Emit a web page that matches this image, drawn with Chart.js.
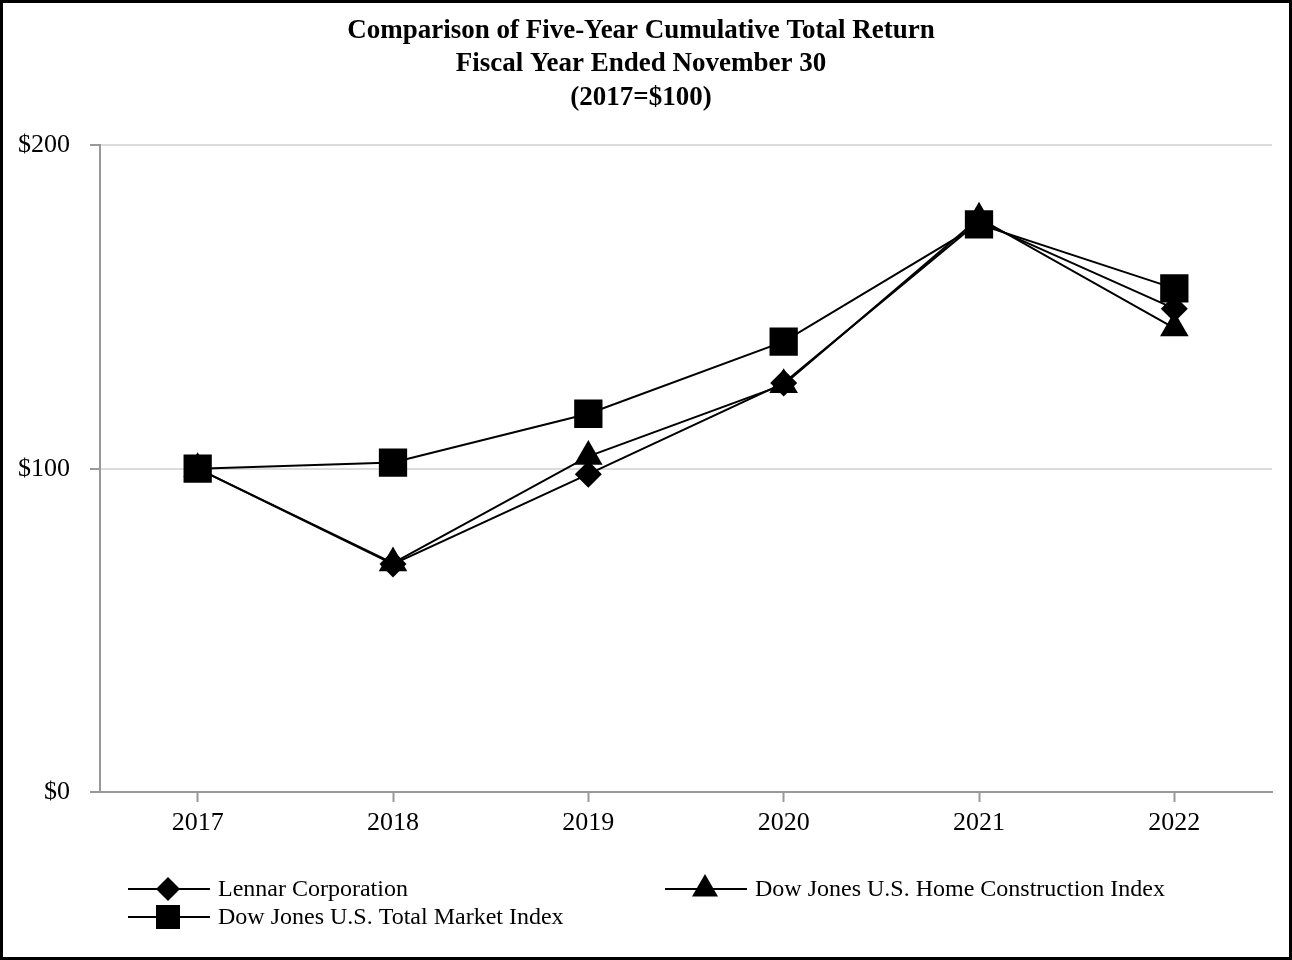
<!DOCTYPE html>
<html>
<head>
<meta charset="utf-8">
<script src="https://cdn.jsdelivr.net/npm/chart.js@4/dist/chart.umd.min.js"></script>
<style>
html,body{margin:0;padding:0;background:#fff;}
#wrap{width:1292px;height:960px;position:relative;}
</style>
</head>
<body>
<div id="wrap"><canvas id="c" width="1292" height="960"></canvas></div>
<script>
const years = ['2017', '2018', '2019', '2020', '2021', '2022'];
const lennar = [100, 70.5, 98.3, 126.5, 176.5, 149.5];
const homeConstruction = [100, 70.8, 103.8, 126.0, 177.5, 143.5];
const totalMarket = [100, 101.9, 117.0, 139.3, 175.6, 155.8];
const seriesNames = ['Lennar Corporation', 'Dow Jones U.S. Home Construction Index', 'Dow Jones U.S. Total Market Index'];
const yTicks = [0, 100, 200];
const titleLines = ['Comparison of Five-Year Cumulative Total Return', 'Fiscal Year Ended November 30', '(2017=$100)'];

const FONT = '"Liberation Serif", "Times New Roman", serif';

const frame = {
  id: 'frame',
  afterDraw(chart) {
    const ctx = chart.ctx;
    ctx.save();
    ctx.strokeStyle = '#000';
    ctx.lineWidth = 3;
    ctx.strokeRect(1.5, 1.5, chart.width - 3, chart.height - 3);
    ctx.restore();
  }
};

function marker(ctx, shape, x, y, r) {
  ctx.beginPath();
  if (shape === 'rectRot') {
    ctx.moveTo(x - r, y); ctx.lineTo(x, y - r); ctx.lineTo(x + r, y); ctx.lineTo(x, y + r);
  } else if (shape === 'triangle') {
    ctx.moveTo(x, y - r);
    ctx.lineTo(x + Math.sin(2 * Math.PI / 3) * r, y + r / 2);
    ctx.lineTo(x - Math.sin(2 * Math.PI / 3) * r, y + r / 2);
  } else {
    const s = Math.SQRT1_2 * r;
    ctx.rect(x - s, y - s, 2 * s, 2 * s);
  }
  ctx.closePath();
  ctx.fill();
}

const customLegend = {
  id: 'customLegend',
  afterDraw(chart) {
    const ctx = chart.ctx;
    const items = [
      {ds: 0, x: 128, y: 889},
      {ds: 1, x: 665, y: 889},
      {ds: 2, x: 128, y: 917}
    ];
    ctx.save();
    ctx.font = '24px ' + FONT;
    ctx.textBaseline = 'middle';
    ctx.fillStyle = '#000';
    ctx.strokeStyle = '#000';
    items.forEach(it => {
      const ds = chart.data.datasets[it.ds];
      ctx.lineWidth = 2;
      ctx.beginPath();
      ctx.moveTo(it.x, it.y);
      ctx.lineTo(it.x + 82, it.y);
      ctx.stroke();
      marker(ctx, ds.pointStyle, it.x + 40, it.y, ds.pointStyle === 'rect' ? 17 : (ds.pointStyle === 'triangle' ? 15 : 12));
      ctx.fillText(ds.label, it.x + 90, it.y + 1);
    });
    ctx.restore();
  }
};

new Chart(document.getElementById('c'), {
  type: 'line',
  data: {
    labels: years,
    datasets: [
      {label: seriesNames[0], data: lennar, pointStyle: 'rectRot', pointRadius: 13.5, order: 2},
      {label: seriesNames[1], data: homeConstruction, pointStyle: 'triangle', pointRadius: 16.5, order: 1},
      {label: seriesNames[2], data: totalMarket, pointStyle: 'rect', pointRadius: 20, order: 0}
    ].map(d => Object.assign({
      borderColor: '#000', backgroundColor: '#000', pointBackgroundColor: '#000',
      pointBorderColor: '#000', borderWidth: 2, pointBorderWidth: 0, tension: 0,
      pointHoverRadius: d.pointRadius
    }, d))
  },
  options: {
    responsive: false,
    animation: false,
    devicePixelRatio: 1,
    layout: {padding: {left: 10, right: 20, top: 0, bottom: 0}},
    plugins: {
      legend: {display: false},
      tooltip: {enabled: false},
      title: {
        display: true,
        text: titleLines,
        color: '#000',
        font: {family: FONT, size: 27, weight: 'bold', lineHeight: 1.24},
        padding: {top: 14, bottom: 31}
      }
    },
    scales: {
      x: {
        type: 'category',
        offset: true,
        grid: {display: true, drawOnChartArea: false, drawTicks: true, tickLength: 10, tickColor: '#999', tickWidth: 2},
        border: {display: true, color: '#999', width: 2},
        ticks: {color: '#000', font: {family: FONT, size: 26}, padding: 6, maxRotation: 0},
        afterFit(scale) { scale.height = 168; }
      },
      y: {
        min: 0, max: 200,
        afterBuildTicks(scale) { scale.ticks = yTicks.map(v => ({value: v})); },
        grid: {color: '#dcdcdc', lineWidth: 2, drawTicks: true, tickLength: 10, tickColor: '#999', tickWidth: 2},
        border: {display: true, color: '#999', width: 2},
        ticks: {color: '#000', font: {family: FONT, size: 26}, padding: 20, callback: v => '$' + v},
        afterFit(scale) { scale.width = 90; }
      }
    }
  },
  plugins: [frame, customLegend]
});
</script>
</body>
</html>
